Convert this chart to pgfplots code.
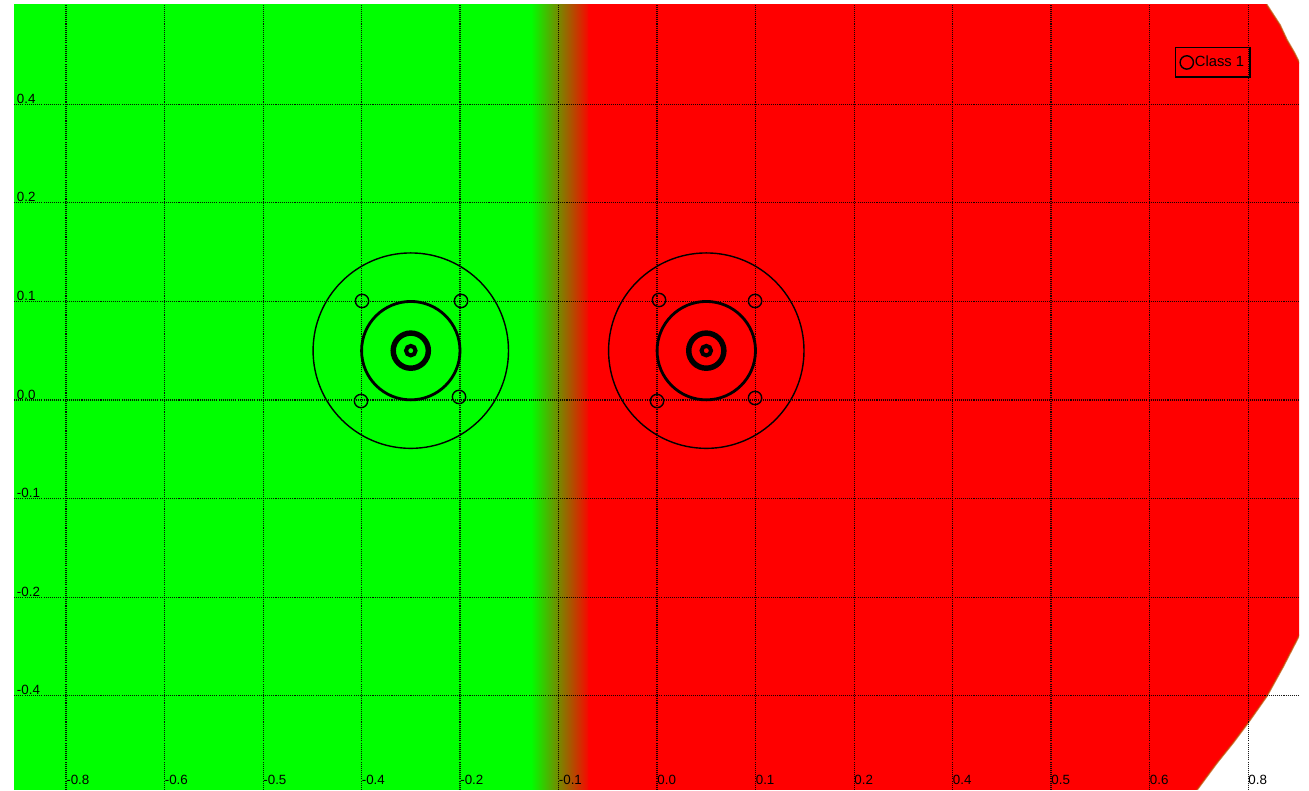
\documentclass[border=0pt]{standalone}
\usepackage{pgfplots}
\pgfplotsset{compat=1.18}
\usepackage{fontspec}
\setmainfont{Liberation Sans}
\definecolor{gr}{RGB}{0,255,0}
\definecolor{rd}{RGB}{255,0,0}
\definecolor{fringe}{RGB}{190,80,0}
\begin{document}
\begin{tikzpicture}
\path[use as bounding box] (0,0) rectangle (26.18cm,15.82cm);
\begin{axis}[
  at={(0.28cm,0.02cm)}, anchor=south west,
  scale only axis, width=25.70cm, height=15.70cm,
  xmin=-0.8704, xmax=0.8690, ymin=-0.5274, ymax=0.5341,
  axis on top,
  axis line style={draw=none},
  major tick length=0pt,
  xtick={-0.8,-0.6667,-0.5333,-0.4,-0.2667,-0.1333,0,0.1333,0.2667,0.4,0.5333,0.6667,0.8},
  xticklabels={-0.8,-0.6,-0.5,-0.4,-0.2,-0.1,0.0,0.1,0.2,0.4,0.5,0.6,0.8},
  ytick={-0.4,-0.2667,-0.1333,0,0.1333,0.2667,0.4},
  yticklabels={-0.4,-0.2,-0.1,0.0,0.1,0.2,0.4},
  grid=major,
  major grid style={black, line width=0.6pt, dash pattern=on 0.6pt off 0.6pt, opacity=0.9},
  x tick label style={anchor=base west, inner sep=0pt, yshift=3pt, font=\fontsize{7.6}{9}\selectfont},
  y tick label style={anchor=base west, inner sep=0pt, xshift=1.5pt, yshift=0.5pt, font=\fontsize{7.6}{9}\selectfont},
  legend style={at={(0.9035,0.9465)}, anchor=north west, draw=black, line width=0.8pt, fill=none,
    inner xsep=2.5pt, inner ysep=3.6pt, font=\fontsize{8.4}{10}\selectfont, nodes={inner xsep=0.8pt, inner ysep=1pt}},
  legend image code/.code={\draw[#1] plot coordinates {(0pt,0pt)};},
]
% background regions
\addplot[draw=none, fill=gr, forget plot] coordinates {(-0.90,-0.55) (-0.168,-0.55) (-0.168,0.55) (-0.90,0.55)};
\addplot[draw=none, left color=gr, right color=rd, forget plot] coordinates {(-0.1706,-0.55) (-0.0906,-0.55) (-0.0906,0.55) (-0.1706,0.55)};
\addplot[draw=none, fill=rd, forget plot] coordinates {(-0.0930,0.55) (0.8200,0.55) (0.8257,0.5341) (0.8433,0.5071) (0.8528,0.4868) (0.8622,0.4706) (0.8690,0.4570) (0.8750,0.4490) (0.8750,-0.3110) (0.8690,-0.3191) (0.8474,-0.3610) (0.8257,-0.4003) (0.8000,-0.4368) (0.7797,-0.4638) (0.7580,-0.4908) (0.7309,-0.5274) (0.7280,-0.55) (-0.0930,-0.55)};
\addplot[fringe, line width=0.9pt, opacity=0.7, forget plot] coordinates {(0.8200,0.55) (0.8257,0.5341) (0.8433,0.5071) (0.8528,0.4868) (0.8622,0.4706) (0.8690,0.4570) (0.8750,0.4490)};
\addplot[fringe, line width=0.9pt, opacity=0.7, forget plot] coordinates {(0.8750,-0.3110) (0.8690,-0.3191) (0.8474,-0.3610) (0.8257,-0.4003) (0.8000,-0.4368) (0.7797,-0.4638) (0.7580,-0.4908) (0.7309,-0.5274) (0.7280,-0.55)};
% concentric rings around cluster centres
\addplot[black, only marks, mark=o, mark size=55.6pt, line width=0.8pt, forget plot] coordinates {(-0.3333,0.0667) (0.0667,0.0667)};
\addplot[black, only marks, mark=o, mark size=28pt, line width=1.6pt, forget plot] coordinates {(-0.3333,0.0667) (0.0667,0.0667)};
\addplot[black, only marks, mark=o, mark size=10pt, line width=3.1pt, forget plot] coordinates {(-0.3333,0.0667) (0.0667,0.0667)};
\addplot[black, only marks, mark=o, mark size=2.7pt, line width=2.3pt, forget plot] coordinates {(-0.3333,0.0667) (0.0667,0.0667)};
% data points
\addplot[black, only marks, mark=o, mark size=3.8pt, line width=0.8pt] coordinates {(-0.3993,0.1339) (-0.2653,0.1339) (-0.4007,-0.0014) (-0.2680,0.0041) (0.0027,0.1352) (0.1327,0.1339) (0.0000,-0.0014) (0.1327,0.0027)};
\addlegendentry{Class 1}
\end{axis}
\end{tikzpicture}
\end{document}
